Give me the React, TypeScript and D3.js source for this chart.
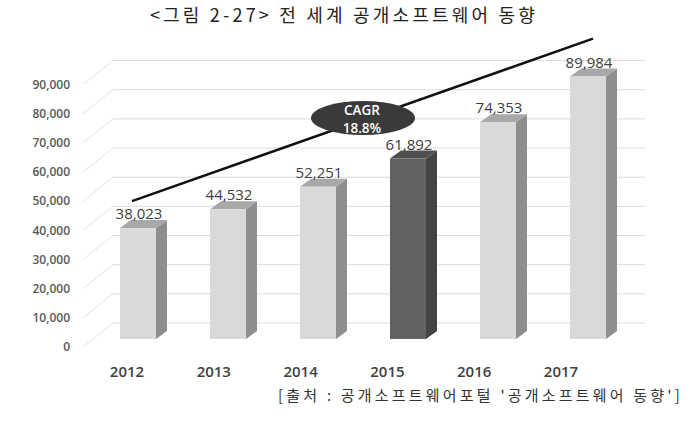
import React from "react";
import * as d3 from "d3";

const years = ["2012", "2013", "2014", "2015", "2016", "2017"];
const values = [38023, 44532, 52251, 61892, 74353, 89984];
const highlightYear = "2015";
const yTicks = [0, 10000, 20000, 30000, 40000, 50000, 60000, 70000, 80000, 90000];
const trendValues = [47300, 103000];
const title = "<그림 2-27> 전 세계 공개소프트웨어 동향";
const source = "[출처 : 공개소프트웨어포털 '공개소프트웨어 동향']";
const badgeLines = ["CAGR", "18.8%"];

const W = 700, H = 429;
const DX = 30, DY = -24; // full depth offset
const BAR_DEPTH = 1 / 3;
const BAR_W = 36;
const SDX = 11, SDY = -8;

export default function App() {
  const yFront = d3.scaleLinear().domain([0, 100000]).range([347, 347 - 291.6]);
  const yBar = (v: number) => yFront(v) + DY * BAR_DEPTH;
  const xBar = d3.scalePoint<string>().domain(years).range([138, 588]);
  const xLabel = d3.scalePoint<string>().domain(years).range([127, 561]);
  const fmt = d3.format(",");
  const wallLeft = 83 + DX, wallRight = 645;

  const trendLine = d3.line<[number, number]>()([
    [xBar(years[0])! - 6, yBar(trendValues[0])],
    [xBar(years[years.length - 1])! + 5, yBar(trendValues[1])],
  ]);

  return (
    <svg width={W} height={H} style={{ position: "absolute", left: 0, top: 0, background: "#fff" }}>
      <text x={344} y={22} textAnchor="middle" fontFamily="'Noto Sans CJK KR'" fontSize={18} fill="#222" letterSpacing={3.2}>
        {title}
      </text>
      {yTicks.map((t) => (
        <g key={t}>
          <line x1={83} y1={yFront(t)} x2={83 + DX} y2={yFront(t) + DY} stroke="#e4e4e4" strokeWidth={1} />
          <line x1={wallLeft} y1={yFront(t) + DY} x2={wallRight} y2={yFront(t) + DY} stroke="#dcdcdc" strokeWidth={1} />
          <text x={70} y={yFront(t)} dy="0.35em" textAnchor="end" fontFamily="'Open Sans'" fontSize={12} fontWeight={600} fill="#595959">
            {fmt(t)}
          </text>
        </g>
      ))}
      {years.map((yr, i) => {
        const cx = xBar(yr)!;
        const x0 = cx - BAR_W / 2, x1 = cx + BAR_W / 2;
        const yt = yBar(values[i]), yb = yBar(0);
        const hi = yr === highlightYear;
        const front = hi ? "#626262" : "#d9d9d9";
        const side = hi ? "#444444" : "#8e8e8e";
        const top = hi ? "#505050" : "#a8a8a8";
        return (
          <g key={yr}>
            <polygon points={`${x1},${yt} ${x1 + SDX},${yt + SDY} ${x1 + SDX},${yb + SDY} ${x1},${yb}`} fill={side} />
            <polygon points={`${x0},${yt} ${x0 + SDX},${yt + SDY} ${x1 + SDX},${yt + SDY} ${x1},${yt}`} fill={top} />
            <rect x={x0} y={yt} width={BAR_W} height={yb - yt} fill={front} />
            <text x={cx + 1} y={yt - 9} textAnchor="middle" fontFamily="'Open Sans'" fontSize={15} fill="#404040">
              {fmt(values[i])}
            </text>
            <text x={xLabel(yr)} y={377} textAnchor="middle" fontFamily="'Open Sans'" fontSize={15} fontWeight={600} fill="#404040">
              {yr}
            </text>
          </g>
        );
      })}
      <path d={trendLine!} stroke="#111" strokeWidth={2.5} fill="none" />
      <ellipse cx={363} cy={118} rx={52} ry={17} fill="#3a3a3a" />
      <text x={362} y={110} dy="0.35em" textAnchor="middle" fontFamily="'Open Sans'" fontSize={13.5} fontWeight={600} fill="#fff">{badgeLines[0]}</text>
      <text x={362} y={128} dy="0.35em" textAnchor="middle" fontFamily="'Open Sans'" fontSize={13.5} fontWeight={600} fill="#fff">{badgeLines[1]}</text>
      <text x={683} y={401} textAnchor="end" fontFamily="'Noto Sans CJK KR'" fontSize={15} fill="#333" letterSpacing={3.2}>
        {source}
      </text>
    </svg>
  );
}
